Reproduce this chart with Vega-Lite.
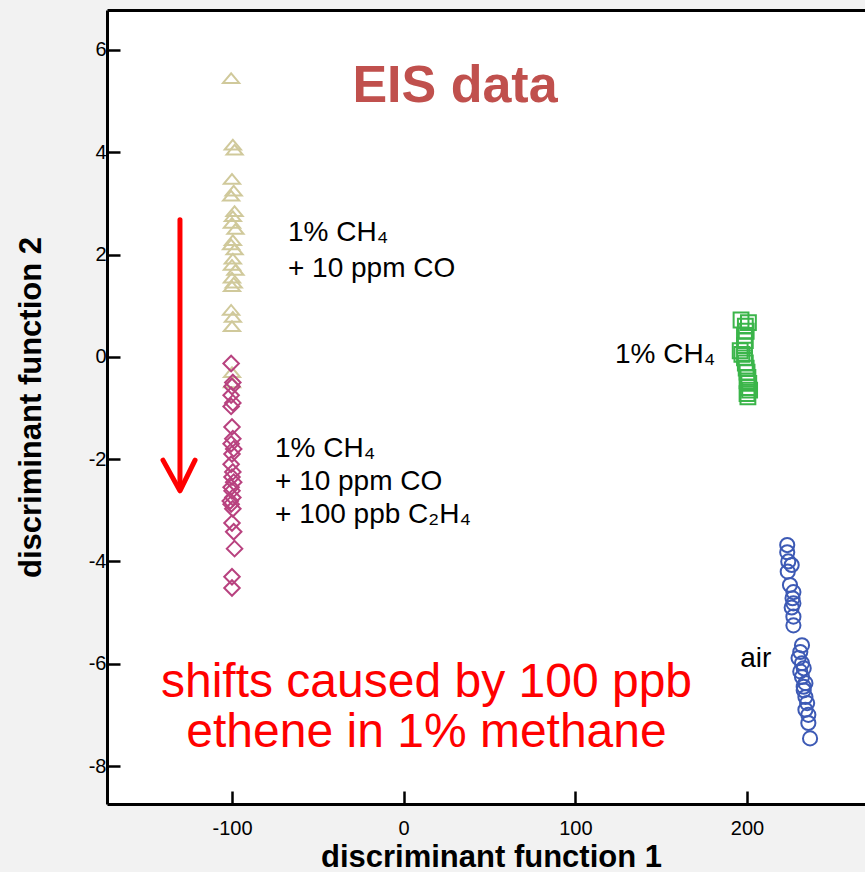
{
  "$schema": "https://vega.github.io/schema/vega-lite/v6.json",
  "width": 758,
  "height": 794,
  "autosize": {"type": "none"},
  "padding": {"left": 107, "top": 10, "right": 0, "bottom": 68},
  "background": "#f2f2f2",
  "config": {
    "view": {"fill": "white", "stroke": null},
    "axis": {
      "domainColor": "black", "domainWidth": 3, "tickColor": "black", "tickWidth": 2.5, "tickSize": -13,
      "labelFont": "Liberation Sans", "labelFontSize": 20, "labelColor": "black",
      "titleFont": "Liberation Sans", "titleFontSize": 31, "titleFontWeight": "bold", "titleColor": "black",
      "grid": false
    }
  },
  "datasets": {
    "points": [
      {"g": "tri", "x": -100.5, "y": 5.45}, {"g": "tri", "x": -99.5, "y": 4.15}, {"g": "tri", "x": -98.5, "y": 4.05},
      {"g": "tri", "x": -100, "y": 3.48}, {"g": "tri", "x": -99, "y": 3.25}, {"g": "tri", "x": -100.5, "y": 3.15},
      {"g": "tri", "x": -98.5, "y": 2.85}, {"g": "tri", "x": -99.5, "y": 2.75}, {"g": "tri", "x": -100, "y": 2.62},
      {"g": "tri", "x": -98, "y": 2.5}, {"g": "tri", "x": -99.5, "y": 2.28}, {"g": "tri", "x": -100.5, "y": 2.2},
      {"g": "tri", "x": -98.5, "y": 2.1}, {"g": "tri", "x": -99.5, "y": 1.92}, {"g": "tri", "x": -100, "y": 1.8},
      {"g": "tri", "x": -98, "y": 1.7}, {"g": "tri", "x": -100, "y": 1.55}, {"g": "tri", "x": -99, "y": 1.45},
      {"g": "tri", "x": -100, "y": 1.38}, {"g": "tri", "x": -100.5, "y": 0.92}, {"g": "tri", "x": -99.5, "y": 0.78},
      {"g": "tri", "x": -100, "y": 0.6}, {"g": "tri", "x": -100, "y": -0.3}, {"g": "tri", "x": -100, "y": -0.5},
      {"g": "dia", "x": -100.5, "y": -0.13}, {"g": "dia", "x": -99.5, "y": -0.5}, {"g": "dia", "x": -100, "y": -0.58},
      {"g": "dia", "x": -100.5, "y": -0.75}, {"g": "dia", "x": -99.5, "y": -0.9}, {"g": "dia", "x": -100.5, "y": -0.97},
      {"g": "dia", "x": -100, "y": -1.37}, {"g": "dia", "x": -99.5, "y": -1.6}, {"g": "dia", "x": -100.5, "y": -1.7},
      {"g": "dia", "x": -99, "y": -1.8}, {"g": "dia", "x": -100, "y": -1.9}, {"g": "dia", "x": -100.5, "y": -2.1},
      {"g": "dia", "x": -99.5, "y": -2.25}, {"g": "dia", "x": -100, "y": -2.35}, {"g": "dia", "x": -99, "y": -2.45},
      {"g": "dia", "x": -100.5, "y": -2.55}, {"g": "dia", "x": -100, "y": -2.62}, {"g": "dia", "x": -99.5, "y": -2.75},
      {"g": "dia", "x": -101, "y": -2.82}, {"g": "dia", "x": -100.5, "y": -2.88}, {"g": "dia", "x": -99.5, "y": -2.97},
      {"g": "dia", "x": -100, "y": -3.25}, {"g": "dia", "x": -99, "y": -3.42}, {"g": "dia", "x": -98.5, "y": -3.75},
      {"g": "dia", "x": -100, "y": -4.3}, {"g": "dia", "x": -100, "y": -4.52},
      {"g": "sq", "x": 196.5, "y": 0.72}, {"g": "sq", "x": 200.8, "y": 0.67}, {"g": "sq", "x": 199, "y": 0.6},
      {"g": "sq", "x": 199.5, "y": 0.5}, {"g": "sq", "x": 198.5, "y": 0.42}, {"g": "sq", "x": 199, "y": 0.32},
      {"g": "sq", "x": 198.5, "y": 0.22}, {"g": "sq", "x": 196, "y": 0.12}, {"g": "sq", "x": 197, "y": 0.05},
      {"g": "sq", "x": 198.5, "y": -0.02}, {"g": "sq", "x": 199, "y": -0.12}, {"g": "sq", "x": 199.5, "y": -0.22},
      {"g": "sq", "x": 200, "y": -0.3}, {"g": "sq", "x": 200.5, "y": -0.4}, {"g": "sq", "x": 200, "y": -0.47},
      {"g": "sq", "x": 201, "y": -0.52}, {"g": "sq", "x": 200.5, "y": -0.6}, {"g": "sq", "x": 201.5, "y": -0.65},
      {"g": "sq", "x": 200, "y": -0.72}, {"g": "sq", "x": 200.5, "y": -0.78},
      {"g": "circ", "x": 223.4, "y": -3.68}, {"g": "circ", "x": 223.4, "y": -3.82}, {"g": "circ", "x": 224, "y": -4.0},
      {"g": "circ", "x": 226, "y": -4.07}, {"g": "circ", "x": 223.7, "y": -4.2}, {"g": "circ", "x": 225, "y": -4.46},
      {"g": "circ", "x": 227, "y": -4.6}, {"g": "circ", "x": 226.5, "y": -4.72}, {"g": "circ", "x": 227, "y": -4.82},
      {"g": "circ", "x": 226, "y": -4.9}, {"g": "circ", "x": 227, "y": -5.08}, {"g": "circ", "x": 227, "y": -5.25},
      {"g": "circ", "x": 232, "y": -5.64}, {"g": "circ", "x": 231, "y": -5.77}, {"g": "circ", "x": 230, "y": -5.89},
      {"g": "circ", "x": 232, "y": -5.99}, {"g": "circ", "x": 233, "y": -6.09}, {"g": "circ", "x": 231, "y": -6.15},
      {"g": "circ", "x": 232, "y": -6.26}, {"g": "circ", "x": 234, "y": -6.38}, {"g": "circ", "x": 233, "y": -6.45},
      {"g": "circ", "x": 233, "y": -6.52}, {"g": "circ", "x": 234, "y": -6.65}, {"g": "circ", "x": 235, "y": -6.77},
      {"g": "circ", "x": 234, "y": -6.9}, {"g": "circ", "x": 235.7, "y": -7.0}, {"g": "circ", "x": 235.7, "y": -7.16},
      {"g": "circ", "x": 236.7, "y": -7.46}
    ],
    "arrow": [
      {"part": "shaft", "o": 1, "x": -130.3, "y": 2.68},
      {"part": "shaft", "o": 2, "x": -130.3, "y": -2.55},
      {"part": "head", "o": 1, "x": -140.2, "y": -2.02},
      {"part": "head", "o": 2, "x": -130.3, "y": -2.62},
      {"part": "head", "o": 3, "x": -121.5, "y": -2.02}
    ],
    "labels": [
      {"x": -67.4, "y": 2.27, "t": "1% CH₄"},
      {"x": -67.4, "y": 1.57, "t": "+ 10 ppm CO"},
      {"x": -74.95, "y": -1.95, "t": "1% CH₄"},
      {"x": -74.95, "y": -2.6, "t": "+ 10 ppm CO"},
      {"x": -74.95, "y": -3.25, "t": "+ 100 ppb C₂H₄"},
      {"x": 123.1, "y": -0.115, "t": "1% CH₄"},
      {"x": 196.0, "y": -6.06, "t": "air"}
    ],
    "title": [{"x": 29.9, "y": 4.99, "t": "EIS data"}],
    "note": [
      {"x": 13.3, "y": -6.65, "t": "shifts caused by 100 ppb"},
      {"x": 13.3, "y": -7.62, "t": "ethene in 1% methane"}
    ]
  },
  "resolve": {"axis": {"x": "independent"}},
  "layer": [
    {
      "data": {"name": "points"},
      "mark": {"type": "point", "filled": false, "strokeWidth": 2, "opacity": 1},
      "encoding": {
        "x": {"field": "x", "type": "quantitative", "scale": {"domain": [-172.8, 268.7], "nice": false, "zero": false},
              "axis": {"orient": "bottom", "values": [-100, 0, 100, 200], "labelExpr": "'' + datum.value", "labelPadding": 27, "title": "discriminant function 1",
                       "titleX": 384, "titleY": 62, "titleBaseline": "alphabetic", "titleAnchor": null}},
        "y": {"field": "y", "type": "quantitative", "scale": {"domain": [-8.743, 6.782], "nice": false, "zero": false},
              "axis": {"values": [-8, -6, -4, -2, 0, 2, 4, 6], "labelExpr": "'' + datum.value", "labelPadding": 14, "title": "discriminant function 2",
                       "titleX": -67, "titleY": 397, "titleAngle": -90, "titleBaseline": "alphabetic", "titleAlign": "center"}},
        "color": {"field": "g", "type": "nominal", "legend": null,
                  "scale": {"domain": ["tri", "dia", "sq", "circ"], "range": ["#d0c99b", "#b8427f", "#3bb54a", "#3d5ab5"]}},
        "shape": {"field": "g", "type": "nominal", "legend": null,
                  "scale": {"domain": ["tri", "dia", "sq", "circ"], "range": ["M-1,0.6L0,-0.6L1,0.6Z", "diamond", "square", "circle"]}},
        "size": {"field": "g", "type": "nominal", "legend": null,
                 "scale": {"domain": ["tri", "dia", "sq", "circ"], "range": [260, 200, 120, 250]}}
      }
    },
    {
      "data": {"name": "arrow"},
      "mark": {"type": "line", "color": "#ff0000", "strokeWidth": 5, "strokeCap": "round", "strokeJoin": "round"},
      "encoding": {
        "x": {"field": "x", "type": "quantitative",
              "axis": {"orient": "top", "labels": false, "ticks": false, "title": null, "domainWidth": 3}},
        "y": {"field": "y", "type": "quantitative"},
        "detail": {"field": "part"},
        "order": {"field": "o"}
      }
    },
    {
      "data": {"name": "labels"},
      "mark": {"type": "text", "align": "left", "baseline": "alphabetic", "font": "Liberation Sans", "fontSize": 28, "color": "black"},
      "encoding": {
        "x": {"field": "x", "type": "quantitative", "axis": null},
        "y": {"field": "y", "type": "quantitative"},
        "text": {"field": "t"}
      }
    },
    {
      "data": {"name": "title"},
      "mark": {"type": "text", "align": "center", "baseline": "alphabetic", "font": "Liberation Sans", "fontSize": 52, "fontWeight": "bold", "color": "#c0504d"},
      "encoding": {
        "x": {"field": "x", "type": "quantitative", "axis": null},
        "y": {"field": "y", "type": "quantitative"},
        "text": {"field": "t"}
      }
    },
    {
      "data": {"name": "note"},
      "mark": {"type": "text", "align": "center", "baseline": "alphabetic", "font": "Liberation Sans", "fontSize": 48, "color": "#ff0000"},
      "encoding": {
        "x": {"field": "x", "type": "quantitative", "axis": null},
        "y": {"field": "y", "type": "quantitative"},
        "text": {"field": "t"}
      }
    }
  ]
}
